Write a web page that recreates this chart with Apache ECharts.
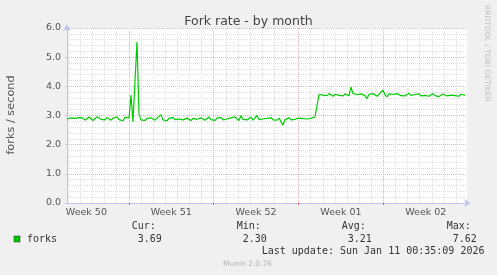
<!DOCTYPE html>
<html>
<head>
<meta charset="utf-8">
<script src="https://cdn.jsdelivr.net/npm/echarts@6/dist/echarts.min.js"></script>
<style>
html,body{margin:0;padding:0;background:#f0f0f0;}
#c{width:497px;height:275px;}
</style>
</head>
<body>
<div id="c"></div>
<script>
// ---- data ----
const titleText = 'Fork rate - by month';
const yAxisName = 'forks / second';
const seriesName = 'forks';
const spanDays = 33;                 // month graph covers 33 days
const sampleStepDays = 0.165;        // one sample every ~4h
const weekStarts = [5.1, 12.1, 19.1, 26.1];           // days from start
const weekMids = [1.6, 8.6, 15.6, 22.6, 29.6];
const weekLabels = ['Week 50', 'Week 51', 'Week 52', 'Week 01', 'Week 02'];
const dayLines = [0.1,1.1,2.1,3.1,4.1,5.1,6.1,7.1,8.1,9.1,10.1,11.1,12.1,13.1,14.1,15.1,16.1,17.1,18.1,19.1,20.1,21.1,22.1,23.1,24.1,25.1,26.1,27.1,28.1,29.1,30.1,31.1,32.1];
const yTicks = [0, 1, 2, 3, 4, 5, 6];
const forks = [
  2.88,2.85,2.92,2.95,2.90,2.86,2.93,2.98,2.91,2.84,
  2.87,2.95,2.90,2.83,2.88,2.96,2.92,2.87,2.90,2.85,
  2.93,2.89,2.84,2.91,2.87,2.95,2.86,2.90,2.82,2.94,
  2.88,2.92,3.70,2.78,4.20,5.52,3.05,2.85,2.88,2.83,
  2.90,2.86,2.92,2.87,2.84,2.91,2.88,3.03,2.85,2.89,
  2.82,2.90,2.87,2.93,2.86,2.80,2.88,2.92,2.85,2.89,
  2.91,2.86,2.83,2.90,2.94,2.87,2.85,2.92,2.88,2.84,
  2.90,2.95,2.86,2.89,2.83,2.91,2.87,2.93,2.85,2.90,
  2.88,2.84,2.92,2.86,2.95,2.89,2.83,3.00,2.87,2.91,
  2.85,2.90,2.94,2.84,2.88,3.00,2.86,2.91,2.88,2.83,
  2.90,2.87,2.93,2.85,2.89,2.84,2.91,2.85,2.67,2.86,
  2.88,2.92,2.85,2.90,2.87,2.83,2.91,2.86,2.89,2.84,
  2.88,2.86,2.90,2.92,2.95,3.00,3.72,3.78,3.70,3.74,
  3.68,3.75,3.71,3.66,3.73,3.77,3.69,3.72,3.67,3.74,
  3.70,3.68,3.97,3.75,3.69,3.72,3.66,3.74,3.70,3.68,
  3.58,3.72,3.69,3.75,3.70,3.66,3.73,3.68,3.87,3.71,
  3.64,3.74,3.69,3.72,3.66,3.75,3.70,3.68,3.73,3.67,
  3.71,3.76,3.69,3.64,3.72,3.70,3.74,3.67,3.71,3.69,
  3.73,3.66,3.70,3.75,3.68,3.72,3.65,3.71,3.74,3.69,
  3.67,3.72,3.70,3.76,3.68,3.71,3.66,3.73,3.70,3.69
];
const statLabels = ['Cur:', 'Min:', 'Avg:', 'Max:'];
const statValues = ['3.69', '2.30', '3.21', '7.62'];
const lastUpdate = 'Last update: Sun Jan 11 00:35:09 2026';
const muninVersion = 'Munin 2.0.76';
const sideText = 'RRDTOOL / TOBI OETIKER';

// ---- chart ----
const seriesData = forks.map((v, i) => [i * sampleStepDays, v]);
const axisCol = '#c4c4ee';
const minorCol = '#dedede';
const majorCol = '#ebb0b0';
const textCol = '#555';

const statX = [131.7, 236.7, 341.7, 446.7];
const graphics = [];
statLabels.forEach((s, i) => {
  graphics.push({type:'text', left: statX[i], top: 221, style:{text:s, font:'10px "DejaVu Sans Mono"', fill:'#333'}});
  graphics.push({type:'text', left: statX[i] + 6, top: 234, style:{text:statValues[i], font:'10px "DejaVu Sans Mono"', fill:'#333'}});
});
graphics.push({type:'rect', shape:{x:14, y:236, width:6, height:6}, style:{fill:'#00cc00', stroke:'#222', lineWidth:0.5}});
graphics.push({type:'text', left: 27, top: 234, style:{text:seriesName, font:'10px "DejaVu Sans Mono"', fill:'#333'}});
graphics.push({type:'text', left: 261.7, top: 246, style:{text:lastUpdate, font:'10px "DejaVu Sans Mono"', fill:'#333'}});
graphics.push({type:'text', left: 223, top: 260, style:{text:muninVersion, font:'7.5px "DejaVu Sans"', fill:'#b4b4b4'}});
graphics.push({type:'text', x: 11, y: 115, rotation: Math.PI/2, style:{text:yAxisName, font:'11.3px "DejaVu Sans"', fill:textCol, align:'center', verticalAlign:'middle'}});
graphics.push({type:'text', x: 487, y: 5, rotation: -Math.PI/2, style:{text:sideText, font:'7.5px "DejaVu Sans"', fill:'#c0c0c0', align:'left', verticalAlign:'middle'}});

const chart = echarts.init(document.getElementById('c'), null, {renderer:'canvas'});
chart.setOption({
  animation: false,
  backgroundColor: '#f0f0f0',
  title: {text: titleText, left: 'center', top: 10, textStyle:{fontFamily:'DejaVu Sans', fontSize:12.5, fontWeight:'normal', color:'#444'}},
  grid: {left: 67, right: 30, top: 28, bottom: 72, show: true, backgroundColor: '#ffffff', borderWidth: 0},
  xAxis: [
    {
      type:'value', min:0, max:spanDays, position:'bottom',
      axisLine:{show:false},
      axisLabel:{show:true, customValues: dayLines, formatter: () => ''},
      axisTick:{show:true, length:0, customValues: dayLines, lineStyle:{color:'rgba(0,0,0,0)'}},
      splitLine:{show:true, lineStyle:{color:minorCol, type:[1,1], width:1}}
    },
    {
      type:'value', min:0, max:spanDays, position:'bottom',
      axisLine:{show:true, lineStyle:{color:axisCol, width:1}, symbol:['none','arrow'], symbolSize:[6,7], symbolOffset:[0,4]},
      axisTick:{show:true, length:2, inside:false, customValues: weekStarts, lineStyle:{color:'#e06060'}},
      axisLabel:{customValues: weekMids, margin:5, color:textCol, fontFamily:'DejaVu Sans', fontSize:9.5,
        formatter: v => { let best=0; weekMids.forEach((m,i)=>{ if (Math.abs(m-v) < Math.abs(weekMids[best]-v)) best=i; }); return weekLabels[best]; }},
      splitLine:{show:true, lineStyle:{color:majorCol, type:[1,1], width:1}}
    }
  ],
  yAxis: {
    type:'value', min:yTicks[0], max:yTicks[yTicks.length-1], interval:1,
    axisLine:{show:true, lineStyle:{color:axisCol, width:1}, symbol:['none','arrow'], symbolSize:[6,7], symbolOffset:[0,4]},
    axisTick:{show:true, length:2, lineStyle:{color:axisCol}},
    axisLabel:{color:textCol, fontFamily:'DejaVu Sans', fontSize:9.5, margin:6, formatter: v => v.toFixed(1)},
    splitLine:{show:true, lineStyle:{color:majorCol, type:[1,1], width:1}},
    minorTick:{show:false, splitNumber:5},
    minorSplitLine:{show:true, lineStyle:{color:minorCol, type:[1,1], width:1}}
  },
  series: [{
    name: seriesName, type:'line', xAxisIndex:1, data: seriesData, showSymbol:false,
    lineStyle:{color:'#00cc00', width:1.2}, z: 5
  }],
  graphic: graphics
});
</script>
</body>
</html>
